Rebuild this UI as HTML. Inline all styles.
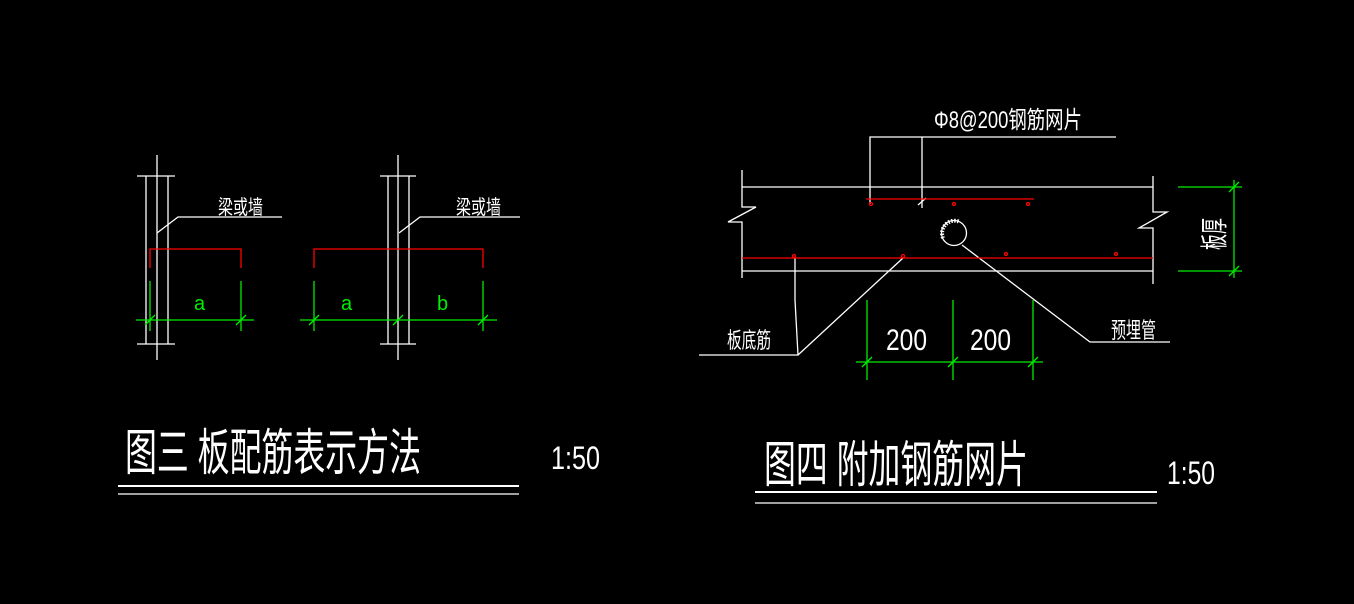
<!DOCTYPE html>
<html><head><meta charset="utf-8"><style>
html,body{margin:0;padding:0;background:#000;}
svg{display:block;}
text{font-family:"Liberation Sans","Noto Sans CJK SC",sans-serif;}
</style></head><body>
<svg width="1354" height="604" viewBox="0 0 1354 604" xmlns="http://www.w3.org/2000/svg">
<rect width="1354" height="604" fill="#000"/>
<g stroke="#fff" stroke-width="1.3" fill="none">
<line x1="146" y1="176" x2="146" y2="344"/><line x1="157" y1="155" x2="157" y2="360"/><line x1="168" y1="176" x2="168" y2="344"/>
<line x1="137" y1="176" x2="175" y2="176"/><line x1="137" y1="344" x2="175" y2="344"/>
<polyline points="157,233 178,217 282,217"/>
<line x1="388" y1="176" x2="388" y2="344"/><line x1="398" y1="155" x2="398" y2="360"/><line x1="409" y1="176" x2="409" y2="344"/>
<line x1="380" y1="176" x2="416" y2="176"/><line x1="380" y1="344" x2="416" y2="344"/>
<polyline points="399,233 420,217 520,217"/>
<line x1="118" y1="486" x2="519" y2="486" stroke-width="2"/><line x1="118" y1="494" x2="519" y2="494"/>
<line x1="755" y1="492" x2="1157" y2="492" stroke-width="2"/><line x1="755" y1="503" x2="1157" y2="503"/>
<line x1="742" y1="187" x2="1153" y2="187"/><line x1="742" y1="271" x2="1153" y2="271"/>
<polyline points="742,170 742,207 756,207 728,222 742,222 742,278"/>
<polyline points="1153,176 1153,212 1167,212 1139,228 1153,228 1153,284"/>
<polyline points="870,204 870,137 1116,137"/><line x1="922" y1="137" x2="922" y2="208"/>
<line x1="918" y1="205" x2="926" y2="198"/>
<circle cx="954" cy="233" r="12.5"/>
<path d="M943,238 A12.5,12.5 0 0 1 960,222" stroke-width="4" stroke-dasharray="1.5 1.5"/>
<polyline points="962,245 1090,342 1170,342"/>
<polyline points="795,258 795,300 798,355 699,355"/><line x1="798" y1="355" x2="903" y2="258"/>
</g>
<g stroke="#f00" stroke-width="1.3" fill="none">
<polyline points="150,268 150,249 241,249 241,268"/>
<polyline points="314,268 314,249 483,249 483,268"/>
<line x1="742" y1="258" x2="1153" y2="258"/>
<line x1="866" y1="199" x2="1034" y2="199"/>
<circle cx="794" cy="256" r="1.5"/><circle cx="903" cy="256" r="1.5"/><circle cx="1006" cy="254" r="1.5"/><circle cx="1116" cy="254" r="1.5"/>
<circle cx="871" cy="204" r="1.5"/><circle cx="954" cy="204" r="1.5"/><circle cx="1028" cy="204" r="1.5"/>
</g>
<g stroke="#0e0" stroke-width="1.3" fill="none">
<line x1="150" y1="281" x2="150" y2="331"/><line x1="241" y1="281" x2="241" y2="331"/>
<line x1="136" y1="320" x2="254" y2="320"/>
<line x1="145" y1="325" x2="155" y2="315"/><line x1="236" y1="325" x2="246" y2="315"/>
<line x1="314" y1="281" x2="314" y2="331"/><line x1="483" y1="281" x2="483" y2="331"/>
<line x1="300" y1="320" x2="497" y2="320"/>
<line x1="309" y1="325" x2="319" y2="315"/><line x1="393" y1="325" x2="403" y2="315"/><line x1="478" y1="325" x2="488" y2="315"/>
<line x1="867" y1="300" x2="867" y2="380"/><line x1="953" y1="300" x2="953" y2="380"/><line x1="1033" y1="300" x2="1033" y2="380"/>
<line x1="856" y1="362" x2="1043" y2="362"/>
<line x1="862" y1="367" x2="872" y2="357"/><line x1="948" y1="367" x2="958" y2="357"/><line x1="1028" y1="367" x2="1038" y2="357"/>
<line x1="1234" y1="180" x2="1234" y2="278"/>
<line x1="1178" y1="187" x2="1242" y2="187"/><line x1="1178" y1="271" x2="1242" y2="271"/>
<line x1="1229" y1="192" x2="1239" y2="182"/><line x1="1229" y1="276" x2="1239" y2="266"/>
</g>
<g fill="#0e0" font-size="20">
<text x="194" y="310">a</text><text x="341" y="310">a</text><text x="437" y="310">b</text>
</g>
<g fill="#fff">
<text x="218" y="214" font-size="20" textLength="45" lengthAdjust="spacingAndGlyphs">梁或墙</text>
<text x="456" y="214" font-size="20" textLength="45" lengthAdjust="spacingAndGlyphs">梁或墙</text>
<text x="125" y="470" font-size="50" textLength="296" lengthAdjust="spacingAndGlyphs">图三 板配筋表示方法</text>
<text x="551" y="469" font-size="32" textLength="49" lengthAdjust="spacingAndGlyphs">1:50</text>
<text x="764" y="482" font-size="50" textLength="264" lengthAdjust="spacingAndGlyphs">图四 附加钢筋网片</text>
<text x="1167" y="484" font-size="32" textLength="48" lengthAdjust="spacingAndGlyphs">1:50</text>
<text x="934" y="128" font-size="24" textLength="148" lengthAdjust="spacingAndGlyphs">Φ8@200钢筋网片</text>
<text x="727" y="348" font-size="22" textLength="44" lengthAdjust="spacingAndGlyphs">板底筋</text>
<text x="1111" y="338" font-size="22" textLength="45" lengthAdjust="spacingAndGlyphs">预埋管</text>
<text x="886" y="350" font-size="30" textLength="41" lengthAdjust="spacingAndGlyphs">200</text>
<text x="970" y="350" font-size="30" textLength="41" lengthAdjust="spacingAndGlyphs">200</text>
<text transform="translate(1224,250) rotate(-90)" font-size="28" textLength="32" lengthAdjust="spacingAndGlyphs">板厚</text>
</g>
</svg>
</body></html>
